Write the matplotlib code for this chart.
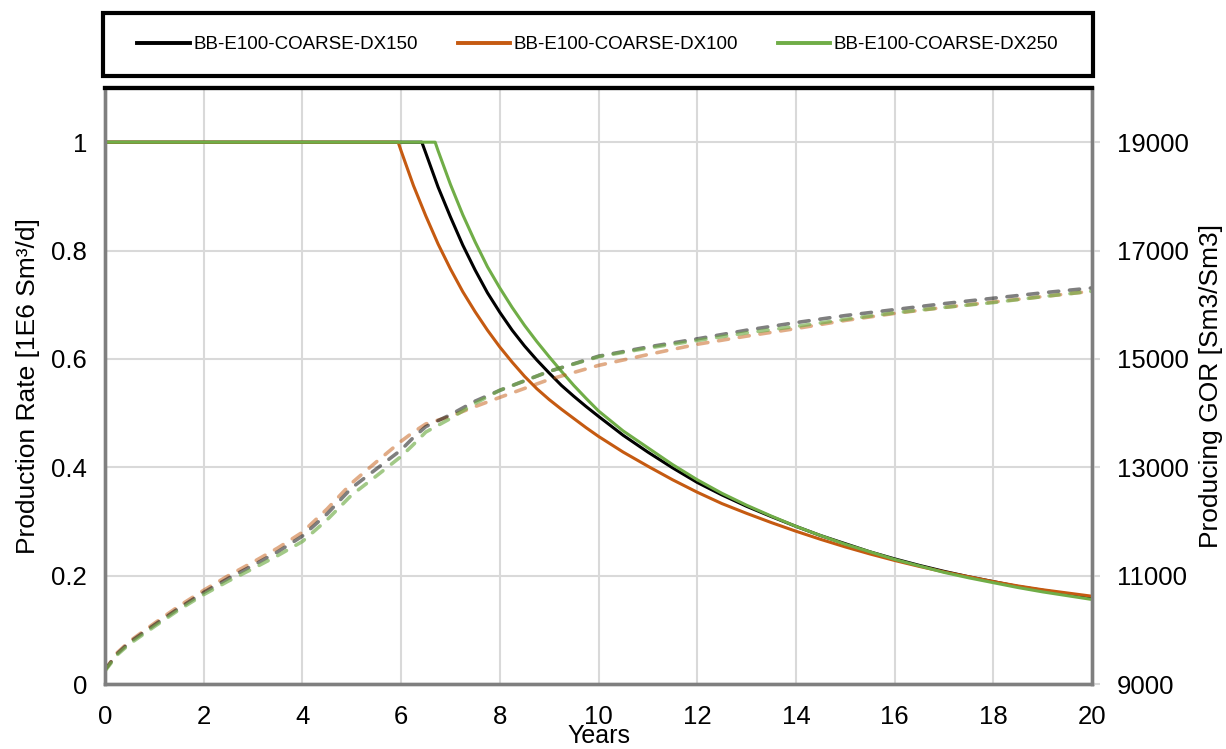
import matplotlib
matplotlib.use("Agg")
import matplotlib.pyplot as plt
from matplotlib.patches import Rectangle
from matplotlib.ticker import FuncFormatter, MultipleLocator

plt.rcParams['font.family'] = ['Liberation Sans', 'DejaVu Sans']

# ---- Production rate [1E6 Sm3/d] ----
t_dx150 = [0, 6.42, 6.5, 6.75, 7.0, 7.25, 7.5, 7.75, 8.0, 8.25, 8.5, 8.75, 9.0, 9.25, 9.5,
           9.75, 10, 10.5, 11, 11.5, 12, 12.5, 13, 13.5, 14, 14.5, 15, 15.5, 16, 16.5,
           17, 17.5, 18, 18.5, 19, 19.5, 20]
q_dx150 = [1.0, 1.0, 0.980, 0.917, 0.862, 0.810, 0.764, 0.722, 0.686, 0.653, 0.624, 0.598,
           0.574, 0.551, 0.531, 0.512, 0.494, 0.459, 0.428, 0.399, 0.372, 0.349, 0.328,
           0.309, 0.291, 0.274, 0.259, 0.244, 0.231, 0.219, 0.208, 0.198, 0.189, 0.180,
           0.173, 0.166, 0.159]

t_dx100 = [0, 5.94, 6.0, 6.25, 6.5, 6.75, 7.0, 7.25, 7.5, 7.75, 8.0, 8.25, 8.5, 8.75, 9.0,
           9.25, 9.5, 9.75, 10, 10.5, 11, 11.5, 12, 12.5, 13, 13.5, 14, 14.5, 15, 15.5, 16,
           16.5, 17, 17.5, 18, 18.5, 19, 19.5, 20]
q_dx100 = [1.0, 1.0, 0.984, 0.920, 0.864, 0.812, 0.766, 0.724, 0.687, 0.653, 0.622, 0.594,
           0.568, 0.545, 0.525, 0.507, 0.490, 0.473, 0.457, 0.428, 0.402, 0.377, 0.354,
           0.333, 0.315, 0.298, 0.282, 0.267, 0.253, 0.240, 0.228, 0.217, 0.207, 0.198,
           0.189, 0.181, 0.174, 0.168, 0.162]

t_dx250 = [0, 6.69, 6.75, 7.0, 7.25, 7.5, 7.75, 8.0, 8.25, 8.5, 8.75, 9.0, 9.25, 9.5, 9.75,
           10, 10.5, 11, 11.5, 12, 12.5, 13, 13.5, 14, 14.5, 15, 15.5, 16, 16.5, 17, 17.5,
           18, 18.5, 19, 19.5, 20]
q_dx250 = [1.0, 1.0, 0.984, 0.922, 0.866, 0.816, 0.770, 0.731, 0.695, 0.662, 0.632, 0.604,
           0.577, 0.551, 0.527, 0.504, 0.467, 0.436, 0.405, 0.377, 0.352, 0.330, 0.310,
           0.291, 0.274, 0.258, 0.244, 0.230, 0.218, 0.206, 0.196, 0.187, 0.178, 0.170,
           0.163, 0.156]

# ---- Producing GOR [Sm3/Sm3] ----
t_gor = [0, 0.25, 0.5, 1, 1.5, 2, 2.5, 3, 3.5, 4, 4.5, 5, 5.5, 6, 6.25, 6.5, 7, 7.5, 8,
         9, 10, 11, 12, 13, 14, 15, 16, 17, 18, 19, 20]
gor_dx150 = [9260, 9560, 9770, 10090, 10400, 10690, 10950, 11190, 11440, 11730, 12140, 12620,
             12970, 13320, 13550, 13750, 13970, 14220, 14420, 14770, 15050, 15220, 15370,
             15530, 15670, 15800, 15910, 16020, 16120, 16220, 16310]
gor_dx100 = [9260, 9580, 9790, 10120, 10440, 10730, 11000, 11250, 11510, 11800, 12230, 12710,
             13100, 13480, 13650, 13800, 13940, 14120, 14290, 14620, 14880, 15080, 15270,
             15420, 15560, 15710, 15840, 15950, 16050, 16150, 16250]
gor_dx250 = [9240, 9540, 9740, 10060, 10370, 10650, 10900, 11130, 11370, 11630, 12030, 12490,
             12840, 13200, 13420, 13650, 13900, 14180, 14420, 14770, 15040, 15200, 15340,
             15480, 15600, 15730, 15850, 15950, 16040, 16150, 16250]

names = ["BB-E100-COARSE-DX150", "BB-E100-COARSE-DX100", "BB-E100-COARSE-DX250"]

W, H = 1226, 749
fig = plt.figure(figsize=(W / 100, H / 100), dpi=100)
ax = fig.add_axes([105 / W, 1 - 684 / H, (1092 - 105) / W, (684 - 88) / H])
ax2 = ax.twinx()

grid_c = "#d9d9d9"
ax.grid(True, color=grid_c, linewidth=1.5)
ax.set_axisbelow(True)

lw_solid = 2.2
h1, = ax.plot(t_dx150, q_dx150, color="black", lw=lw_solid, label=names[0], zorder=3)
h2, = ax.plot(t_dx100, q_dx100, color="#c55a11", lw=lw_solid, label=names[1], zorder=3)
h3, = ax.plot(t_dx250, q_dx250, color="#70ad47", lw=lw_solid, label=names[2], zorder=4)

dash = (0, (2.8, 3.0))
lw_dash = 2.6
ax2.plot(t_gor, gor_dx100, color="#c55a11", alpha=0.5, lw=lw_dash, ls=dash, dash_capstyle="round")
ax2.plot(t_gor, gor_dx150, color="black", alpha=0.5, lw=lw_dash, ls=dash, dash_capstyle="round")
ax2.plot(t_gor, gor_dx250, color="#70ad47", alpha=0.65, lw=lw_dash, ls=dash, dash_capstyle="round")

ax.set_xlim(0, 20)
ax.set_ylim(0, 1.1)
ax2.set_ylim(9000, 20000)
ax.xaxis.set_major_locator(MultipleLocator(2))
ax.set_yticks([0, 0.2, 0.4, 0.6, 0.8, 1.0])
ax.yaxis.set_major_formatter(FuncFormatter(lambda v, p: f"{v:g}"))
ax2.set_yticks([9000, 11000, 13000, 15000, 17000, 19000])

fs_tick = 18.5
ax.tick_params(axis="x", length=0, pad=15, labelsize=fs_tick)
ax.tick_params(axis="y", length=0, pad=13, labelsize=fs_tick)
ax2.tick_params(axis="y", length=6, width=1.5, color=grid_c, pad=12, labelsize=fs_tick)

fs_lab = 19
ax.set_xlabel("Years", fontsize=18, va="bottom")
ax.xaxis.set_label_coords(0.5, -(748 - 684) / (684 - 88))
ax.set_ylabel("Production Rate [1E6 Sm³/d]", fontsize=fs_lab, labelpad=8)
ax2.set_ylabel("Producing GOR [Sm3/Sm3]", fontsize=fs_lab, labelpad=7)

for a in (ax, ax2):
    for side in ("left", "bottom", "right"):
        a.spines[side].set_color("#7f7f7f")
        a.spines[side].set_linewidth(2.4)
    a.spines["top"].set_color("black")
    a.spines["top"].set_linewidth(3)

# Legend box above the plot area
box = (103 / W, 1 - 76 / H, 990 / W, 63 / H)
fig.add_artist(Rectangle(box[:2], box[2], box[3], transform=fig.transFigure,
                         fill=False, edgecolor="black", linewidth=3))
leg = fig.legend(handles=[h1, h2, h3], loc="center", ncol=3,
                 bbox_to_anchor=box, fontsize=13.5, frameon=False,
                 handlelength=2.8, handletextpad=0.2, columnspacing=2.1,
                 borderaxespad=0)
for line in leg.get_lines():
    line.set_linewidth(2.8)

fig.savefig("out.png", dpi=100)
